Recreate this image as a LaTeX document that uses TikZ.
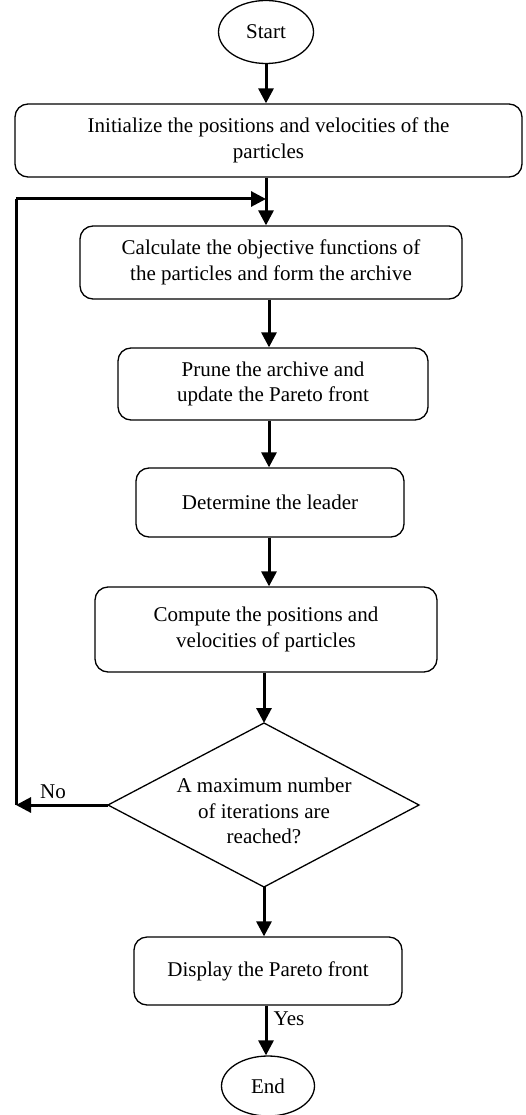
\documentclass[tikz,border=0pt]{standalone}
\usepackage{fontspec}
\setmainfont{Liberation Serif}
\usetikzlibrary{arrows.meta,shapes.geometric}
\begin{document}
\begin{tikzpicture}[x=1pt,y=-1pt,
  txt/.style={font=\fontsize{21}{25.5}\selectfont, align=center, inner sep=0pt},
  box/.style={txt, draw, line width=1.3pt, rounded corners=13pt},
  term/.style={txt, draw, ellipse, line width=1.3pt},
  arr/.style={line width=3pt, -{Triangle[width=15pt,length=15pt]}},
  ln/.style={line width=3pt},
  edge/.style={line width=1.3pt, line join=miter}]
\useasboundingbox (0,0) rectangle (526,1115);
\node[term, minimum width=95pt, minimum height=63pt] (start) at (266,32) {Start};
\node[box, minimum width=507pt, minimum height=73pt] (init) at (268.5,140.5)
  {Initialize the positions and velocities of the\\particles};
\node[box, minimum width=382pt, minimum height=73pt] (calc) at (271,262.5)
  {Calculate the objective functions of\\the particles and form the archive};
\node[box, minimum width=310pt, minimum height=72pt] (prune) at (273,384)
  {Prune the archive and\\update the Pareto front};
\node[box, minimum width=268pt, minimum height=69pt] (lead) at (270,502.5)
  {Determine the leader};
\node[box, minimum width=342pt, minimum height=85pt] (comp) at (266,629.5)
  {Compute the positions and\\velocities of particles};
\coordinate (dtop) at (264,723);
\coordinate (dbot) at (264,887);
\coordinate (dleft) at (108,805);
\coordinate (dright) at (419,805);
\draw[edge] (dtop) -- (dright) -- (dbot) -- (dleft) -- cycle;
\node[txt] (dectext) at (264,811) {A maximum number\\of iterations are\\reached?};
\node[box, minimum width=268pt, minimum height=68pt] (disp) at (268,971)
  {Display the Pareto front};
\node[term, minimum width=93pt, minimum height=60pt] (end) at (268,1086) {End};
\coordinate (join) at (266,199);
\coordinate (ax) at (269,0);
\coordinate (bx) at (266,0);
\coordinate (noend) at (16,805);
\coordinate (looptop) at (16,199);
% connectors
\draw[arr] (start.south) -- (start.south |- init.north);
\draw[arr] (init.south -| join) -- (join |- calc.north);
\draw[arr] (calc.south -| ax) -- (ax |- prune.north);
\draw[arr] (prune.south -| ax) -- (ax |- lead.north);
\draw[arr] (lead.south -| ax) -- (ax |- comp.north);
\draw[arr] (comp.south -| dtop) -- (dtop);
\draw[arr] (dbot) -- (dbot |- disp.north);
\draw[arr] (disp.south -| bx) -- (bx |- end.north);
\draw[arr] (dleft) -- (noend);
\draw[ln] (noend) -- (looptop);
\draw[arr] (looptop) -- (join);
\node[txt] (nolab) at (53,792) {No};
\node[txt] (yeslab) at (289,1019) {Yes};
\end{tikzpicture}
\end{document}
